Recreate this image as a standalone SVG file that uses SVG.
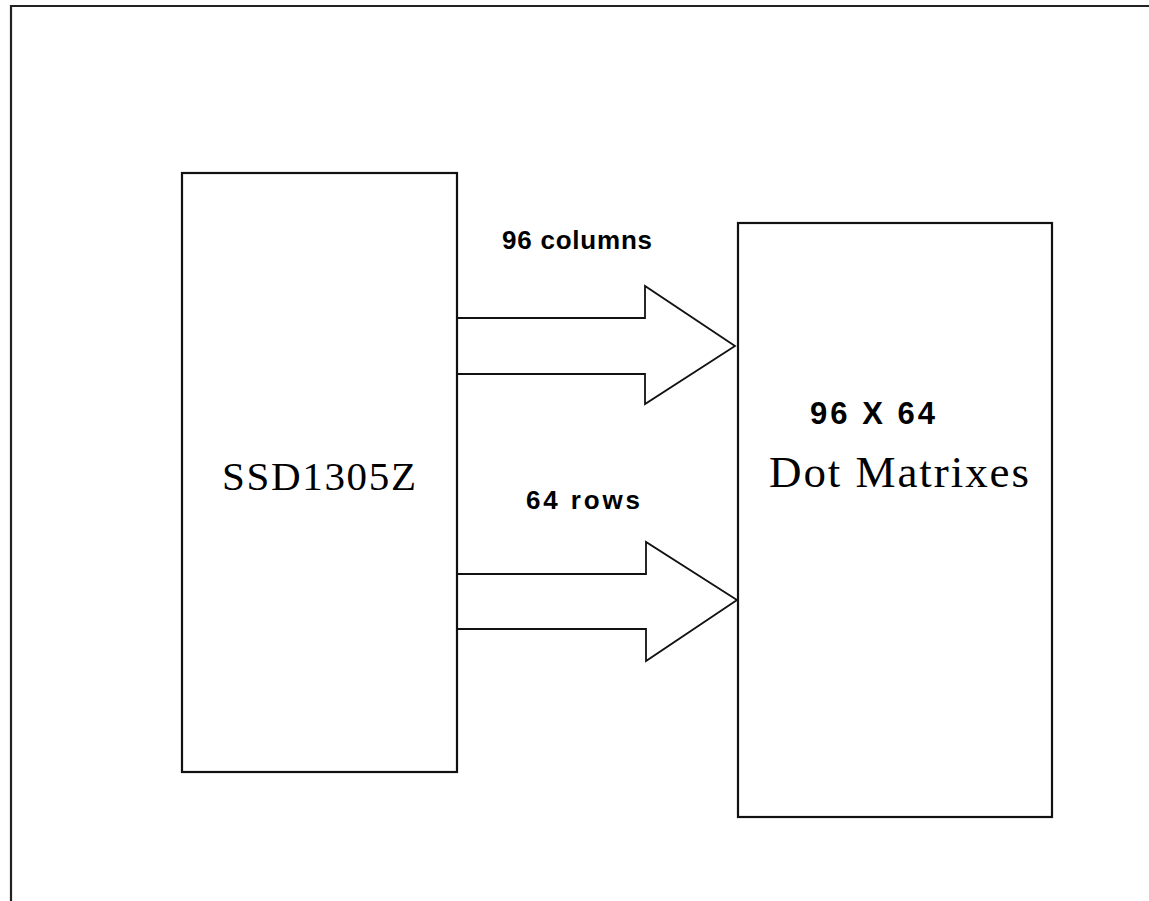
<svg xmlns="http://www.w3.org/2000/svg" width="1149" height="901" viewBox="0 0 1149 901">
<style>
.box{fill:#fff;stroke:#111;stroke-width:2.2}
.arrow{fill:#fff;stroke:#111;stroke-width:1.8;stroke-linejoin:miter}
.lbl{font-family:"Liberation Sans",Arial,sans-serif;font-weight:bold;fill:#000}
.ser{font-family:"Liberation Serif","Times New Roman",serif;fill:#000}
</style>
<rect width="1149" height="901" fill="#fff"/>
<g id="frame"><path d="M11 901 V6 H1149" fill="none" stroke="#222" stroke-width="2.2"/></g>
<g id="connectors">
<path class="arrow" d="M458 318 H645 V286 L735 346 L645 404 V374 H458"/>
<path class="arrow" d="M458 574 H646 V542 L737 600 L646 661 V629 H458"/>
<text class="lbl" x="502" y="249" font-size="26" textLength="150">96 columns</text>
<text class="lbl" x="526" y="509" font-size="26" textLength="114">64 rows</text>
</g>
<g id="ssd1305z">
<rect class="box" x="182" y="173" width="275" height="599"/>
<text class="ser" x="222" y="490" font-size="41" textLength="194">SSD1305Z</text>
</g>
<g id="dotmatrix">
<rect class="box" x="738" y="223" width="314" height="594"/>
<text class="lbl" x="810" y="424" font-size="31" textLength="125">96 X 64</text>
<text class="ser" x="769" y="487" font-size="45" textLength="260">Dot Matrixes</text>
</g>
</svg>
